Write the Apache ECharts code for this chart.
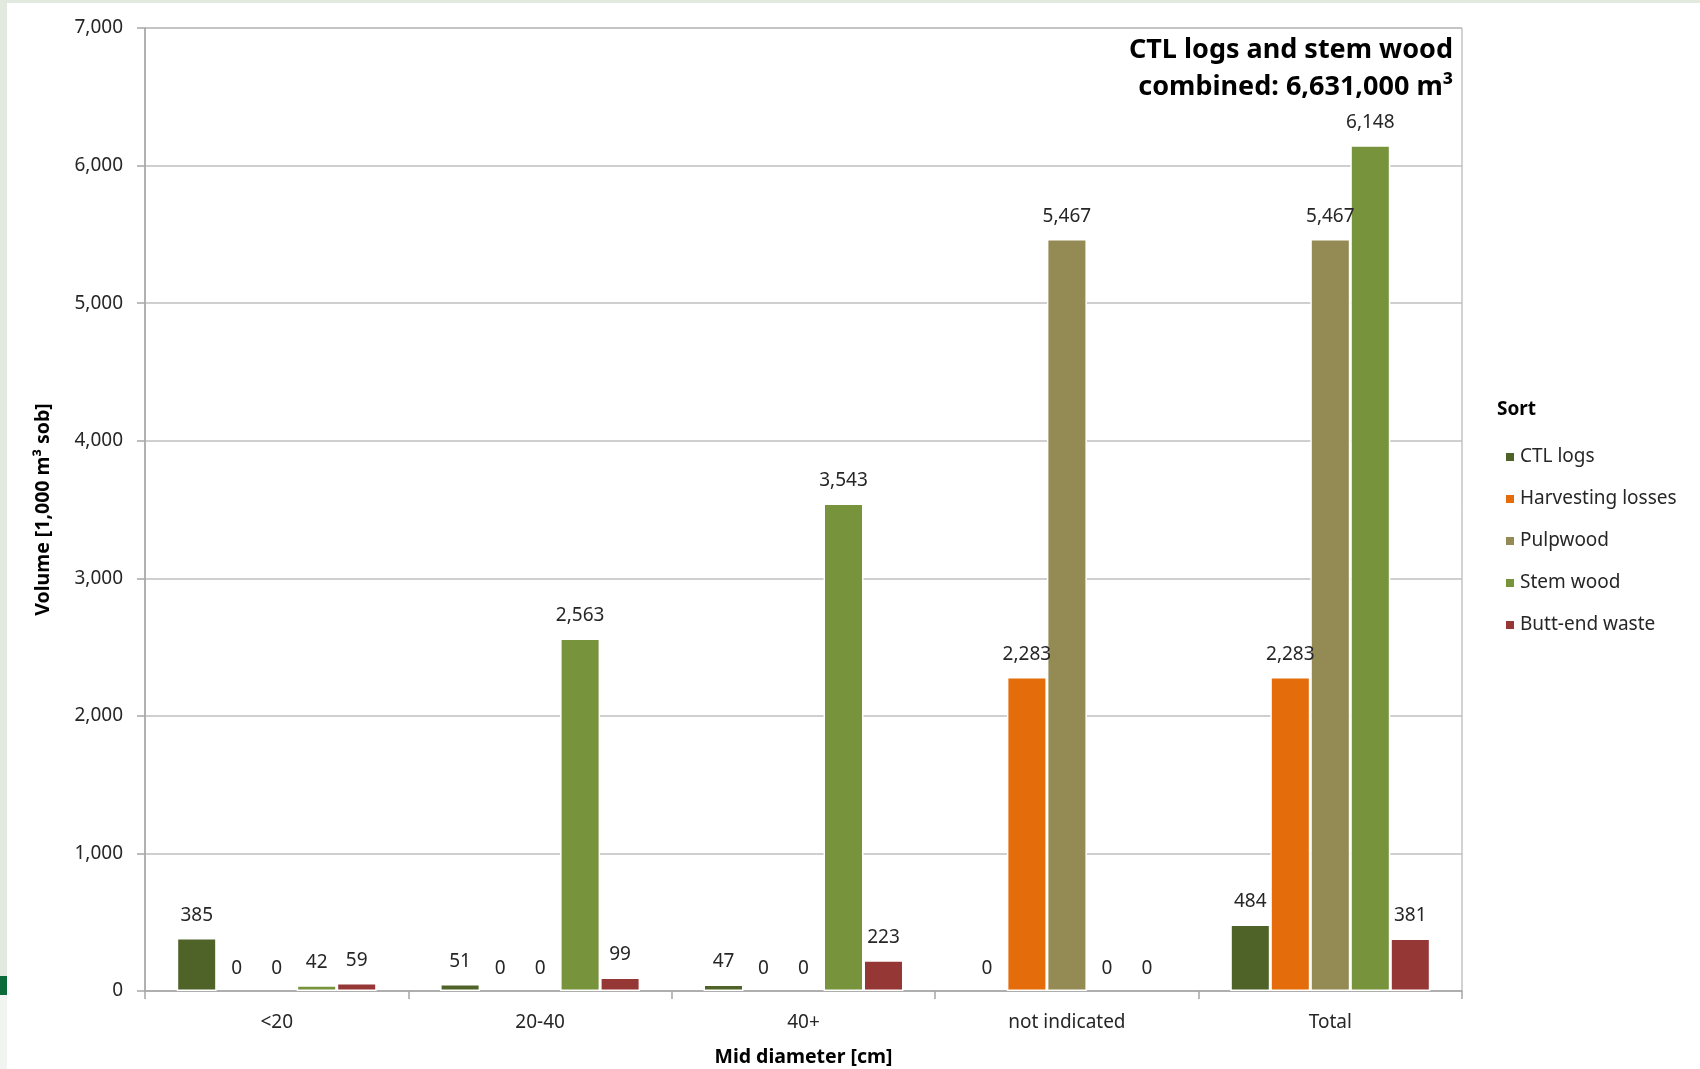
<!DOCTYPE html>
<html>
<head>
<meta charset="utf-8">
<title>Volume by mid diameter and sort</title>
<script src="https://cdn.jsdelivr.net/npm/echarts@6/dist/echarts.min.js"></script>
<style>
  html, body { margin: 0; padding: 0; background: #ffffff; }
  #chart { width: 1700px; height: 1069px; }
</style>
</head>
<body>
<div id="chart"></div>
<script>
// Mid-diameter classes on the x axis
const categories = ['<20', '20-40', '40+', 'not indicated', 'Total'];

// Volume per sort, in 1,000 m³ sob
const ctlLogs      = [385, 51, 47, 0, 484];
const harvLosses   = [0, 0, 0, 2283, 2283];
const pulpwood     = [0, 0, 0, 5467, 5467];
const stemWood     = [42, 2563, 3543, 0, 6148];
const buttEndWaste = [59, 99, 223, 0, 381];

const sortNames  = ['CTL logs', 'Harvesting losses', 'Pulpwood', 'Stem wood', 'Butt-end waste'];
const sortValues = [ctlLogs, harvLosses, pulpwood, stemWood, buttEndWaste];
const sortColors = ['#4f6228', '#e46c0a', '#948a54', '#77933c', '#953735'];

// Y axis range and step
const yMin = 0, yMax = 7000, yStep = 1000;

const FONT = '"Noto Sans", "Open Sans", sans-serif';
const fmt = v => Number(v).toLocaleString('en-US');

const chart = echarts.init(document.getElementById('chart'), null, { renderer: 'canvas' });

const series = sortNames.map((name, i) => ({
  name: name,
  type: 'bar',
  // zero-height bars get no outline so the axis line stays unbroken
  data: sortValues[i].map(v => ({
    value: v,
    itemStyle: { borderWidth: v === 0 ? 0 : 1.5 }
  })),
  barWidth: 40,
  barGap: '0%',
  itemStyle: { color: sortColors[i], borderColor: '#ffffff', borderWidth: 1.5 },
  label: {
    show: true,
    position: 'top',
    distance: 13,
    formatter: p => fmt(p.value),
    fontFamily: FONT,
    fontSize: 19,
    color: '#262626'
  },
  emphasis: { disabled: true }
}));

chart.setOption({
  animation: false,
  backgroundColor: '#ffffff',
  textStyle: { fontFamily: FONT },
  grid: {
    left: 145, right: 238, top: 28, bottom: 78,
    outerBoundsMode: 'none',
    containLabel: false,
    show: true, borderColor: '#a6a6a6', borderWidth: 1, backgroundColor: 'transparent'
  },
  legend: {
    orient: 'vertical',
    left: 1499,
    top: 442,
    icon: 'rect',
    itemWidth: 10,
    itemHeight: 10,
    itemGap: 22,
    data: sortNames,
    textStyle: { fontFamily: FONT, fontSize: 19, color: '#262626', lineHeight: 20 },
    selectedMode: false
  },
  xAxis: {
    type: 'category',
    data: categories,
    name: 'Mid diameter [cm]',
    nameLocation: 'middle',
    nameGap: 56,
    nameTextStyle: { fontFamily: FONT, fontSize: 19.5, fontWeight: 'bold', color: '#000000' },
    axisLine: { lineStyle: { color: '#a6a6a6', width: 1.5 } },
    axisTick: { show: true, length: 8, lineStyle: { color: '#a6a6a6', width: 1.5 } },
    axisLabel: { fontFamily: FONT, fontSize: 19, color: '#262626', margin: 22 }
  },
  yAxis: {
    type: 'value',
    min: yMin,
    max: yMax,
    interval: yStep,
    name: 'Volume [1,000 m³ sob]',
    nameLocation: 'middle',
    nameGap: 92,
    nameTextStyle: { fontFamily: FONT, fontSize: 19.5, fontWeight: 'bold', color: '#000000' },
    axisLine: { show: true, lineStyle: { color: '#a6a6a6', width: 1.5 } },
    axisTick: { show: true, length: 8, lineStyle: { color: '#a6a6a6', width: 1.5 } },
    axisLabel: { fontFamily: FONT, fontSize: 19, color: '#262626', margin: 22, formatter: v => fmt(v) },
    splitLine: { show: true, lineStyle: { color: '#bfbfbf', width: 1.5 } }
  },
  graphic: [
    // light frame strips along the left and top edges
    { type: 'rect', left: 0, top: 0, shape: { width: 7, height: 1069 }, style: { fill: '#e2e9df' }, silent: true },
    { type: 'rect', left: 0, top: 976, shape: { width: 7, height: 93 }, style: { fill: '#f2f4f1' }, silent: true },
    { type: 'rect', left: 0, top: 0, shape: { width: 1700, height: 3 }, style: { fill: '#e2e9df' }, silent: true },
    { type: 'rect', left: 0, top: 976, shape: { width: 7, height: 19 }, style: { fill: '#0a6b38' }, silent: true },
    // combined total note
    {
      type: 'text', x: 1453, y: 32, silent: true,
      style: {
        text: 'CTL logs and stem wood\ncombined: 6,631,000 m³',
        align: 'right', verticalAlign: 'top',
        fontFamily: FONT, fontSize: 27, fontWeight: 'bold', lineHeight: 37, fill: '#000000'
      }
    },
    // legend heading
    {
      type: 'text', x: 1497, y: 410, silent: true,
      style: {
        text: 'Sort', align: 'left', verticalAlign: 'middle',
        fontFamily: FONT, fontSize: 19, fontWeight: 'bold', fill: '#000000'
      }
    }
  ],
  series: series
});
</script>
</body>
</html>
